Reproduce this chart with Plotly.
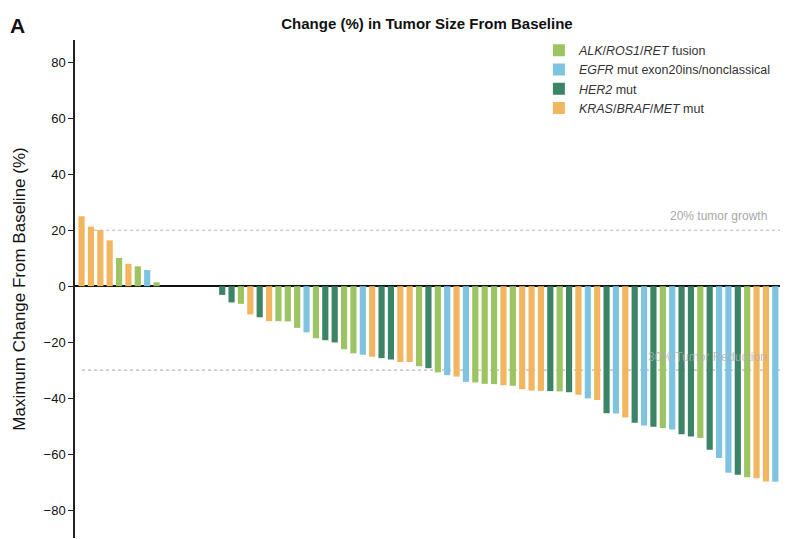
import plotly.graph_objects as go

# ---- data ----
groups_order = ["ALK", "EGFR", "HER2", "KRAS"]
group_labels = {
    "ALK": "<i>ALK</i>/<i>ROS1</i>/<i>RET</i> fusion",
    "EGFR": "<i>EGFR</i> mut exon20ins/nonclassical",
    "HER2": "<i>HER2</i> mut",
    "KRAS": "<i>KRAS</i>/<i>BRAF</i>/<i>MET</i> mut",
}
group_colors = {
    "ALK": "#9cc463",
    "EGFR": "#7ec4e0",
    "HER2": "#3b8466",
    "KRAS": "#f2b660",
}

patient_values = [
    25.0, 21.3, 20.1, 16.4, 10.1, 8.0, 7.1, 5.8, 1.4,
    0, 0, 0, 0, 0, 0,
    -3.1, -5.8, -6.3, -10.1, -11.1, -12.5, -12.5, -12.6, -14.9, -16.5,
    -18.6, -19.3, -20.1, -22.5, -24.0, -24.5, -25.2, -25.7, -26.2, -27.1,
    -27.1, -28.6, -29.3, -30.8, -31.8, -32.3, -34.2, -34.4, -34.9, -35.0,
    -35.4, -35.6, -36.8, -37.3, -37.4, -37.5, -37.6, -37.9, -38.8, -40.1,
    -40.7, -45.4, -45.5, -46.9, -48.8, -49.8, -50.2, -50.7, -51.2, -52.9,
    -53.7, -54.3, -58.5, -61.4, -66.7, -67.4, -68.3, -68.6, -69.8, -69.9,
]
patient_groups = [
    "KRAS", "KRAS", "KRAS", "KRAS", "ALK", "KRAS", "ALK", "EGFR", "ALK",
    "KRAS", "KRAS", "KRAS", "KRAS", "KRAS", "KRAS",
    "HER2", "HER2", "ALK", "KRAS", "HER2", "KRAS", "ALK", "ALK", "ALK", "EGFR",
    "ALK", "HER2", "HER2", "ALK", "ALK", "EGFR", "KRAS", "HER2", "HER2", "KRAS",
    "KRAS", "ALK", "HER2", "ALK", "EGFR", "KRAS", "EGFR", "ALK", "ALK", "ALK",
    "KRAS", "ALK", "KRAS", "KRAS", "KRAS", "HER2", "ALK", "HER2", "KRAS", "EGFR",
    "KRAS", "HER2", "EGFR", "KRAS", "HER2", "EGFR", "HER2", "ALK", "EGFR", "HER2",
    "HER2", "ALK", "HER2", "EGFR", "EGFR", "HER2", "ALK", "KRAS", "KRAS", "EGFR",
]
y_ticks = [80, 60, 40, 20, 0, -20, -40, -60, -80]
growth_threshold = 20
reduction_threshold = -30

# ---- figure ----
patient_index = list(range(1, len(patient_values) + 1))
fig = go.Figure()
for g in groups_order:
    xs = [i for i, gg in zip(patient_index, patient_groups) if gg == g]
    ys = [v for v, gg in zip(patient_values, patient_groups) if gg == g]
    fig.add_trace(go.Bar(
        x=xs, y=ys, name=group_labels[g],
        marker=dict(color=group_colors[g], line=dict(width=0)),
        width=0.66,
    ))

grey = "#b5b5b5"
for yv in (growth_threshold, reduction_threshold):
    fig.add_shape(type="line", xref="paper", yref="y", x0=0.01, x1=1.0,
                  y0=yv, y1=yv, line=dict(color=grey, width=1.2, dash="dot"),
                  layer="below")

fig.add_annotation(xref="paper", yref="y", x=0.985, y=growth_threshold,
                   text="20% tumor growth", showarrow=False, xanchor="right",
                   yanchor="bottom", yshift=5,
                   font=dict(family="Liberation Sans, Arial", size=12, color="#a8a8a8"))
fig.add_annotation(xref="paper", yref="y", x=0.985, y=reduction_threshold,
                   text="30% Tumor Reduction", showarrow=False, xanchor="right",
                   yanchor="bottom", yshift=4,
                   font=dict(family="Liberation Sans, Arial", size=12,
                             color="rgba(175,175,175,0.8)"))

fig.add_annotation(xref="paper", yref="paper", x=-0.081, y=1.03, xanchor="center",
                   yanchor="middle", text="<b>A</b>", showarrow=False,
                   font=dict(family="Liberation Sans, Arial", size=21, color="#111"))

fig.update_layout(
    width=792, height=531,
    margin=dict(l=67, r=20, t=32, b=1),
    paper_bgcolor="white", plot_bgcolor="white",
    barmode="overlay", bargap=0.3,
    title=dict(text="<b>Change (%) in Tumor Size From Baseline</b>",
               x=0.529, xanchor="center", y=0.970, yanchor="middle",
               font=dict(family="Liberation Sans, Arial", size=15, color="#111")),
    font=dict(family="Liberation Sans, Arial", color="#222"),
    showlegend=True,
    legend=dict(x=0.658, y=1.009, xanchor="left", yanchor="top",
                font=dict(family="Liberation Sans, Arial", size=12.5, color="#333"),
                bgcolor="rgba(0,0,0,0)", itemwidth=30, tracegroupgap=0),
    xaxis=dict(range=[0.3, 75.5], showticklabels=False, showgrid=False,
               zeroline=False, showline=False, ticks=""),
    yaxis=dict(range=[-90, 88], tickvals=y_ticks,
               ticktext=[str(t).replace("-", "\u2212") for t in y_ticks],
               showgrid=False, zeroline=True, zerolinecolor="#111",
               zerolinewidth=1.6, showline=True, linecolor="#222", linewidth=1.5,
               ticks="outside", ticklen=5, tickcolor="#222",
               tickfont=dict(size=13, color="#111"),
               title=dict(text="Maximum Change From Baseline (%)",
                          font=dict(size=17, color="#111"), standoff=14)),
)

fig.write_html("out.html")
